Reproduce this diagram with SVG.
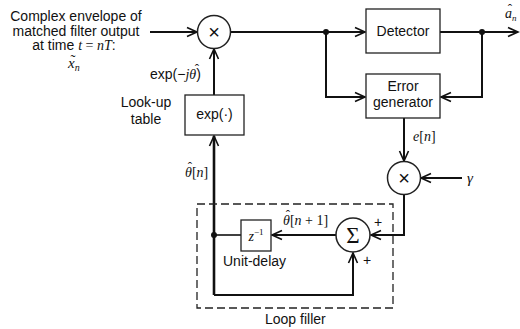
<svg xmlns="http://www.w3.org/2000/svg" width="520" height="329" viewBox="0 0 520 329">
<style>
.s{font-family:"Liberation Sans",Arial,sans-serif;font-size:14px;fill:#111}
.m{font-family:"Liberation Serif","Times New Roman",serif;font-size:14px;fill:#111}
.i{font-style:italic}
.h{font-family:"Liberation Serif","Times New Roman",serif;font-size:13px;fill:#111;text-anchor:middle}
.box{fill:#fff;stroke:#222;stroke-width:1.3}
.c{fill:#fff;stroke:#222;stroke-width:1.5}
.w{fill:none;stroke:#111;stroke-width:2}
</style>
<defs>
<marker id="a" markerUnits="userSpaceOnUse" markerWidth="14" markerHeight="12" viewBox="-12 -6 14 12" refX="0" refY="0" orient="auto">
<path d="M-10,-4.5 L0,0 L-10,4.5" fill="none" stroke="#111" stroke-width="1.6"/>
</marker>
</defs>
<g id="connectors">
<path class="w" d="M150,32 H197" marker-end="url(#a)"/>
<path class="w" d="M231,32 H365" marker-end="url(#a)"/>
<path class="w" d="M326,32 V97 H365" marker-end="url(#a)"/>
<path class="w" d="M440,32 H518" marker-end="url(#a)"/>
<path class="w" d="M482,32 V97 H441" marker-end="url(#a)"/>
<path class="w" d="M404,118 V161" marker-end="url(#a)"/>
<path class="w" d="M462,178 H421" marker-end="url(#a)"/>
<path class="w" d="M404,194 V235 H371" marker-end="url(#a)"/>
<path class="w" d="M336,235 H272" marker-end="url(#a)"/>
<path class="w" d="M241,235 H214" style="stroke-width:1.6"/>
<path class="w" d="M214,295 V136" style="stroke-width:2.6" marker-end="url(#a)"/>
<path class="w" d="M214,295 H353 V253" marker-end="url(#a)"/>
<path class="w" d="M214,95 V49" marker-end="url(#a)"/>
<circle cx="326" cy="32" r="3" fill="#111"/>
<circle cx="482" cy="32" r="3" fill="#111"/>
<circle cx="214" cy="235" r="3" fill="#111"/>
</g>
<g id="loopfilter">
<rect x="197" y="204" width="196" height="104" fill="none" stroke="#222" stroke-width="1.3" stroke-dasharray="8,4"/>
<text class="s" x="265" y="324">Loop filler</text>
</g>
<g id="input">
<text class="s" x="76" y="21" text-anchor="middle">Complex envelope of</text>
<text class="s" x="76" y="35.5" text-anchor="middle">matched filter output</text>
<text class="s" x="74" y="50" text-anchor="middle">at time <tspan class="m i">t</tspan><tspan class="m"> = </tspan><tspan class="m i">nT</tspan>:</text>
<text class="m i" x="68" y="68" style="font-size:15px">x<tspan style="font-size:10px" dy="3">n</tspan></text>
<text class="h" x="73" y="65" style="font-size:15px">˜</text>
</g>
<g id="mult1">
<circle class="c" cx="214" cy="32" r="16.5"/>
<text class="s" x="214" y="39" text-anchor="middle" style="font-size:20px">×</text>
</g>
<g id="detector">
<rect class="box" x="366" y="9" width="74" height="44"/>
<text class="s" x="403" y="36" text-anchor="middle">Detector</text>
</g>
<g id="errorgen">
<rect class="box" x="366" y="74" width="74" height="44"/>
<text class="s" x="403" y="91" text-anchor="middle">Error</text>
<text class="s" x="403" y="107" text-anchor="middle">generator</text>
</g>
<g id="output">
<text class="m i" x="505" y="18">a<tspan style="font-size:9px" dy="3">n</tspan></text>
<text class="h" x="510" y="13">ˆ</text>
</g>
<g id="mult2">
<circle class="c" cx="404" cy="178" r="16.5"/>
<text class="s" x="404" y="185" text-anchor="middle" style="font-size:20px">×</text>
<text class="m" x="413" y="141"><tspan class="i">e</tspan>[<tspan class="i">n</tspan>]</text>
<text class="m i" x="467" y="183" style="font-size:15px">γ</text>
</g>
<g id="sum">
<circle class="c" cx="353" cy="235" r="17"/>
<text class="m" x="353" y="243" text-anchor="middle" style="font-size:23px">Σ</text>
<text class="s" x="378" y="227" text-anchor="middle" style="font-size:14px">+</text>
<text class="s" x="367" y="265" text-anchor="middle" style="font-size:14px">+</text>
<text class="m" x="283" y="225"><tspan class="i">θ</tspan>[<tspan class="i">n</tspan> + 1]</text>
<text class="h" x="288" y="219">ˆ</text>
</g>
<g id="delay">
<rect class="box" x="241" y="220" width="30" height="31"/>
<text class="m" x="256" y="241" text-anchor="middle"><tspan class="i">z</tspan><tspan style="font-size:9px" dy="-6">−1</tspan></text>
<text class="s" x="223" y="266">Unit-delay</text>
</g>
<g id="lookup">
<rect class="box" x="185" y="95" width="59" height="40"/>
<text class="s" x="214.5" y="119" text-anchor="middle">exp(·)</text>
<text class="s" x="146" y="107" text-anchor="middle">Look-up</text>
<text class="s" x="146" y="124" text-anchor="middle">table</text>
<text class="s" x="150" y="79">exp(−<tspan class="m i">jθ</tspan>)</text>
<text class="h" x="197" y="73">ˆ</text>
<text class="m" x="185" y="177"><tspan class="i">θ</tspan>[<tspan class="i">n</tspan>]</text>
<text class="h" x="190" y="171">ˆ</text>
</g>
</svg>
